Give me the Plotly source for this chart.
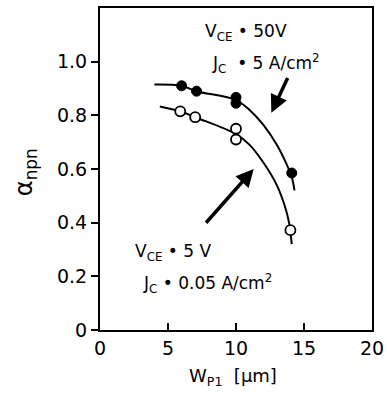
import plotly.graph_objects as go

# Measured points
wp_filled = [6, 7.1, 10, 10, 14.1]
alpha_filled = [0.91, 0.89, 0.867, 0.845, 0.585]
wp_open = [5.9, 7.0, 10, 10, 14.0]
alpha_open = [0.815, 0.793, 0.75, 0.71, 0.372]

# Fitted curves (traced)
curve_hi_x = [4.0, 6, 7.1, 10, 11, 12, 13, 13.7, 14.1, 14.3]
curve_hi_y = [0.915, 0.91, 0.89, 0.857, 0.82, 0.765, 0.69, 0.62, 0.57, 0.52]
curve_lo_x = [4.4, 5.9, 7.0, 10, 11, 12, 13, 13.6, 13.9, 14.1]
curve_lo_y = [0.833, 0.815, 0.793, 0.73, 0.69, 0.625, 0.54, 0.46, 0.40, 0.32]

x_ticks = [0, 5, 10, 15, 20]
y_ticks = [0, 0.2, 0.4, 0.6, 0.8, 1.0]
y_ticklabels = ["0", "0.2", "0.4", "0.6", "0.8", "1.0"]

FONT = "DejaVu Sans"
fig = go.Figure()
fig.add_trace(go.Scatter(x=curve_hi_x, y=curve_hi_y, mode="lines",
                         line=dict(color="black", width=2, shape="spline"), hoverinfo="skip"))
fig.add_trace(go.Scatter(x=curve_lo_x, y=curve_lo_y, mode="lines",
                         line=dict(color="black", width=2, shape="spline"), hoverinfo="skip"))
fig.add_trace(go.Scatter(x=wp_filled, y=alpha_filled, mode="markers",
                         marker=dict(size=10, color="black", line=dict(color="black", width=1))))
fig.add_trace(go.Scatter(x=wp_open, y=alpha_open, mode="markers",
                         marker=dict(size=10, color="white", line=dict(color="black", width=1.8))))

# arrows
fig.add_annotation(x=12.6, y=0.81, ax=13.85, ay=0.945, xref="x", yref="y", axref="x", ayref="y",
                   text="", showarrow=True, arrowhead=2, arrowsize=1, arrowwidth=3.5, arrowcolor="black")
fig.add_annotation(x=11.3, y=0.60, ax=7.7, ay=0.394, xref="x", yref="y", axref="x", ayref="y",
                   text="", showarrow=True, arrowhead=2, arrowsize=1, arrowwidth=3.5, arrowcolor="black")

tf = dict(family=FONT, size=17, color="black")
fig.add_annotation(x=7.6, y=1.108, xref="x", yref="y", text="V<sub>CE</sub> • 50V", showarrow=False,
                   xanchor="left", font=tf)
fig.add_annotation(x=8.1, y=0.995, xref="x", yref="y", text="J<sub>C</sub>  • 5 A/cm<sup>2</sup>", showarrow=False,
                   xanchor="left", font=tf)
fig.add_annotation(x=2.4, y=0.29, xref="x", yref="y", text="V<sub>CE</sub> • 5 V", showarrow=False,
                   xanchor="left", font=tf)
fig.add_annotation(x=3.0, y=0.175, xref="x", yref="y", text="J<sub>C</sub> • 0.05 A/cm<sup>2</sup>", showarrow=False,
                   xanchor="left", font=tf)

# axis titles
fig.add_annotation(x=-0.276, y=0.49, xref="paper", yref="paper", text="α<sub>npn</sub>", textangle=-90,
                   xanchor="center", yanchor="middle",
                   showarrow=False, font=dict(family=FONT, size=24, color="black"))
fig.add_annotation(x=0.49, y=-0.147, xref="paper", yref="paper", text="W<sub>P1</sub>  [μm]",
                   xanchor="center", yanchor="middle",
                   showarrow=False, font=dict(family=FONT, size=18, color="black"))

fig.update_layout(
    width=387, height=396,
    margin=dict(l=100, r=15, t=8, b=66),
    paper_bgcolor="white", plot_bgcolor="white",
    showlegend=False,
    font=dict(family=FONT, size=19, color="black"),
    xaxis=dict(range=[0, 20], tickvals=x_ticks, ticks="inside", ticklen=7, tickwidth=2,
               tickcolor="black", showline=True, linecolor="black", linewidth=2, mirror=True,
               showgrid=False, zeroline=False, automargin=False),
    yaxis=dict(range=[0, 1.2], tickvals=y_ticks, ticktext=y_ticklabels, ticks="outside", ticklen=7,
               tickwidth=2, tickcolor="black", showline=True, linecolor="black", linewidth=2,
               mirror=True, showgrid=False, zeroline=False, automargin=False),
)
fig.write_html("out.html", config={"displayModeBar": False},
               post_script="document.body.style.margin='0';document.body.style.overflow='hidden';")
